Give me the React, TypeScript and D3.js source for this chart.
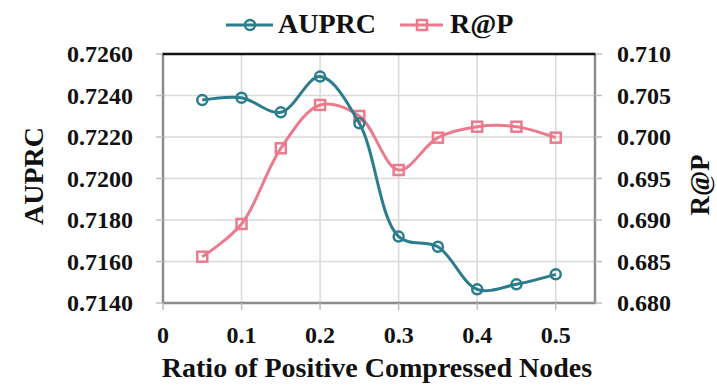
import React, { useEffect, useRef } from 'react';
import * as d3 from 'd3';

const ratios = [0.05, 0.1, 0.15, 0.2, 0.25, 0.3, 0.35, 0.4, 0.45, 0.5];
const auprc = [0.72378, 0.72389, 0.72319, 0.72491, 0.72266, 0.7172, 0.71671, 0.71466, 0.7149, 0.71538];
const recallAtP = [0.68558, 0.68952, 0.69864, 0.70386, 0.70253, 0.69602, 0.69992, 0.70124, 0.70124, 0.69992];
const xTicks = [0, 0.1, 0.2, 0.3, 0.4, 0.5];
const leftTicks = [0.714, 0.716, 0.718, 0.72, 0.722, 0.724, 0.726];
const rightTicks = [0.68, 0.685, 0.69, 0.695, 0.7, 0.705, 0.71];

const TEAL = '#2b7d8c';
const PINK = '#ec7a8d';
const FONT = '"Liberation Serif", "Times New Roman", serif';

export default function App() {
    const ref = useRef<SVGSVGElement>(null);

    useEffect(() => {
        const svg = d3.select(ref.current);
        svg.selectAll('*').remove();

        const left = 163, right = 595, top = 54, bottom = 303;

        const x = d3.scaleLinear().domain([0, 0.55]).range([left, right]);
        const y = d3.scaleLinear().domain([0.714, 0.726]).range([bottom, top]);
        const y2 = d3.scaleLinear().domain([0.68, 0.71]).range([bottom, top]);

        // grid
        const grid = svg.append('g').attr('stroke', '#d9d9d9').attr('stroke-width', 1.5);
        leftTicks.forEach(t => {
            grid.append('line').attr('x1', left).attr('x2', right).attr('y1', y(t)).attr('y2', y(t));
        });
        xTicks.slice(1).forEach(t => {
            grid.append('line').attr('x1', x(t)).attr('x2', x(t)).attr('y1', top).attr('y2', bottom);
        });

        // frame
        const frame = svg.append('g').attr('stroke', '#8c8c8c').attr('stroke-width', 2.5);
        frame.append('line').attr('x1', left).attr('x2', left).attr('y1', top).attr('y2', bottom + 1);
        frame.append('line').attr('x1', right).attr('x2', right).attr('y1', top).attr('y2', bottom + 1);
        frame.append('line').attr('x1', left - 1).attr('x2', right + 1).attr('y1', bottom).attr('y2', bottom);
        svg.append('line').attr('x1', left - 1).attr('x2', right + 1).attr('y1', top).attr('y2', top)
            .attr('stroke', '#111').attr('stroke-width', 2.5);

        // ticks
        const tk = svg.append('g').attr('stroke', '#bfbfbf').attr('stroke-width', 1.5);
        leftTicks.forEach(t => tk.append('line').attr('x1', left - 7).attr('x2', left).attr('y1', y(t)).attr('y2', y(t)));
        rightTicks.forEach(t => tk.append('line').attr('x1', right).attr('x2', right + 7).attr('y1', y2(t)).attr('y2', y2(t)));
        xTicks.forEach(t => tk.append('line').attr('x1', x(t)).attr('x2', x(t)).attr('y1', bottom).attr('y2', bottom + 7));

        const txt = svg.append('g').attr('font-family', FONT).attr('font-weight', 'bold').attr('fill', '#111');
        txt.selectAll('.lt').data(leftTicks).join('text')
            .attr('x', 133).attr('y', d => y(d) + 8).attr('text-anchor', 'end')
            .attr('font-size', 24).text(d => d.toFixed(4));
        txt.selectAll('.rt').data(rightTicks).join('text')
            .attr('x', 617).attr('y', d => y2(d) + 8).attr('text-anchor', 'start')
            .attr('font-size', 24).text(d => d.toFixed(3));
        txt.selectAll('.xt').data(xTicks).join('text')
            .attr('x', d => x(d)).attr('y', 343).attr('text-anchor', 'middle')
            .attr('font-size', 24).text(d => d === 0 ? '0' : String(d));

        txt.append('text').attr('x', (left + right) / 2 - 2).attr('y', 377).attr('text-anchor', 'middle')
            .attr('font-size', 28).text('Ratio of Positive Compressed Nodes');
        txt.append('text').attr('transform', `translate(43,176) rotate(-90)`).attr('text-anchor', 'middle')
            .attr('font-size', 28).text('AUPRC');
        txt.append('text').attr('transform', `translate(709,185) rotate(-90)`).attr('text-anchor', 'middle')
            .attr('font-size', 27).text('R@P');

        const curve = d3.curveCatmullRom.alpha(0.5);

        const line1 = d3.line<number>().x((_, i) => x(ratios[i])).y(d => y(d)).curve(curve);
        const line2 = d3.line<number>().x((_, i) => x(ratios[i])).y(d => y2(d)).curve(curve);

        svg.append('path').datum(recallAtP).attr('d', line2).attr('fill', 'none')
            .attr('stroke', PINK).attr('stroke-width', 3);
        svg.append('g').selectAll('rect').data(recallAtP).join('rect')
            .attr('x', (_, i) => x(ratios[i]) - 5).attr('y', d => y2(d) - 5)
            .attr('width', 10).attr('height', 10).attr('fill', 'none')
            .attr('stroke', PINK).attr('stroke-width', 2.5);

        svg.append('path').datum(auprc).attr('d', line1).attr('fill', 'none')
            .attr('stroke', TEAL).attr('stroke-width', 3);
        svg.append('g').selectAll('circle').data(auprc).join('circle')
            .attr('cx', (_, i) => x(ratios[i])).attr('cy', d => y(d)).attr('r', 5)
            .attr('fill', 'none').attr('stroke', TEAL).attr('stroke-width', 2.5);

        // legend
        const lg = svg.append('g');
        lg.append('line').attr('x1', 226).attr('x2', 273).attr('y1', 25).attr('y2', 25)
            .attr('stroke', TEAL).attr('stroke-width', 3);
        lg.append('circle').attr('cx', 250).attr('cy', 25).attr('r', 5).attr('fill', 'none')
            .attr('stroke', TEAL).attr('stroke-width', 2.5);
        lg.append('text').attr('x', 278).attr('y', 33).attr('font-family', FONT).attr('font-weight', 'bold')
            .attr('font-size', 28).attr('fill', '#111').text('AUPRC');
        lg.append('line').attr('x1', 400).attr('x2', 443).attr('y1', 25).attr('y2', 25)
            .attr('stroke', PINK).attr('stroke-width', 3);
        lg.append('rect').attr('x', 417).attr('y', 20).attr('width', 10).attr('height', 10).attr('fill', 'none')
            .attr('stroke', PINK).attr('stroke-width', 2.5);
        lg.append('text').attr('x', 450).attr('y', 33).attr('font-family', FONT).attr('font-weight', 'bold')
            .attr('font-size', 28).attr('fill', '#111').text('R@P');
    }, []);

    return (
        <svg ref={ref} width={717} height={385}
            style={{ position: 'absolute', left: 0, top: 0, background: '#fff' }} />
    );
}
